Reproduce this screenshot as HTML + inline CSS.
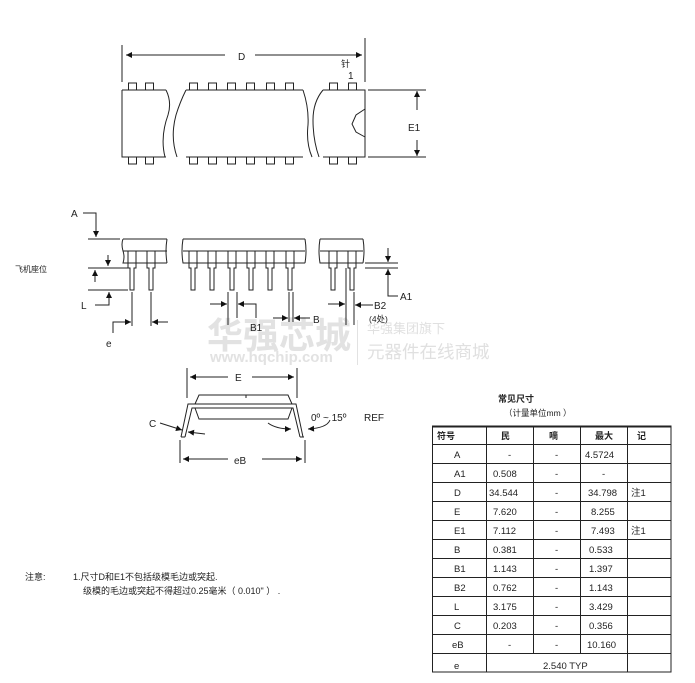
<!DOCTYPE html>
<html><head><meta charset="utf-8"><style>
html,body{margin:0;padding:0;background:#fff;}
svg{display:block;font-family:"Liberation Sans","Noto Sans CJK SC",sans-serif;}
</style></head><body>
<svg width="695" height="683" viewBox="0 0 695 683" xmlns="http://www.w3.org/2000/svg">
<defs>
<marker id="ar" viewBox="0 0 10 10" refX="10" refY="5" markerWidth="9" markerHeight="6" orient="auto-start-reverse" markerUnits="userSpaceOnUse"><path d="M0,0 L10,5 L0,10 z" fill="#111"/></marker>
</defs>
<g fill="none" stroke="#222" stroke-width="1">
<!-- watermark -->
<g stroke="none">
<text x="207" y="348" font-size="36" font-weight="bold" fill="#e2e2e2" stroke="none">华强芯城</text>
<text x="210" y="362" font-size="15" font-weight="bold" fill="#e2e2e2" stroke="none">www.hqchip.com</text>
<text x="367" y="333" font-size="13" fill="#e0e0e0" stroke="none">华强集团旗下</text>
<text x="367" y="358" font-size="17.5" fill="#e0e0e0" stroke="none">元器件在线商城</text>
</g>
<line x1="357.5" y1="320" x2="357.5" y2="365" stroke="#e2e2e2"/>

<!-- TOP VIEW -->
<line x1="122" y1="45" x2="122" y2="82"/>
<line x1="365" y1="38" x2="365" y2="82"/>
<line x1="126" y1="55" x2="225" y2="55" marker-start="url(#ar)"/>
<line x1="255" y1="55" x2="362" y2="55" marker-end="url(#ar)"/>
<path d="M122,90 H166 M186,90 H303 M323,90 H365 V157 H323 M303,157 H186 M166,157 H122 V90"/>
<path d="M166,90 q6,12 2,25 q-8,22 -3,42 M186,90 q-6,12 -10,25 q-6,22 1,42"/>
<path d="M303,90 q6,18 5,35 q-2,18 4,32 M323,90 q-10,12 -10,30 q0,20 6,37"/>
<path d="M365,109 L356,115 L352,124 L356,132 L365,137"/>
<g>
<rect x="128.5" y="83" width="8" height="7"/><rect x="145.5" y="83" width="8" height="7"/>
<rect x="189.5" y="83" width="8" height="7"/><rect x="208.5" y="83" width="8" height="7"/>
<rect x="227.5" y="83" width="8" height="7"/><rect x="246.5" y="83" width="8" height="7"/>
<rect x="266.5" y="83" width="8" height="7"/><rect x="285.5" y="83" width="8" height="7"/>
<rect x="329.5" y="83" width="8" height="7"/><rect x="348.5" y="83" width="8" height="7"/>
<rect x="128.5" y="157" width="8" height="7"/><rect x="145.5" y="157" width="8" height="7"/>
<rect x="189.5" y="157" width="8" height="7"/><rect x="208.5" y="157" width="8" height="7"/>
<rect x="227.5" y="157" width="8" height="7"/><rect x="246.5" y="157" width="8" height="7"/>
<rect x="266.5" y="157" width="8" height="7"/><rect x="285.5" y="157" width="8" height="7"/>
<rect x="329.5" y="157" width="8" height="7"/><rect x="348.5" y="157" width="8" height="7"/>
</g>
<line x1="368" y1="90" x2="426" y2="90"/>
<line x1="368" y1="157" x2="426" y2="157"/>
<line x1="417" y1="110" x2="417" y2="91" marker-end="url(#ar)"/>
<line x1="417" y1="140" x2="417" y2="156" marker-end="url(#ar)"/>

<!-- SIDE VIEW -->
<path d="M123,239 H167 M123,239 q-2,5 0,12 q2,6 0,12 H167 M167,239 q-2,12 0,24 M123,251 H167"/>
<path d="M183,239 H305 M183,239 q-2,12 0,24 H305 M305,239 q2,12 0,24 M183,251 H305"/>
<path d="M320,239 H363 M320,239 q-2,12 0,24 H363 M363,239 q2,12 0,24 M320,251 H363"/>
<g>
<path d="M128,251 V268 H130 V290 H134 V268 H136 V251"/>
<path d="M147,251 V268 H149 V290 H153 V268 H155 V251"/>
<path d="M189,251 V268 H191 V290 H195 V268 H197 V251"/>
<path d="M208,251 V268 H210 V290 H214 V268 H216 V251"/>
<path d="M228,251 V268 H230 V290 H234 V268 H236 V251"/>
<path d="M247,251 V268 H249 V290 H253 V268 H255 V251"/>
<path d="M266,251 V268 H268 V290 H272 V268 H274 V251"/>
<path d="M286,251 V268 H288 V290 H292 V268 H294 V251"/>
<path d="M329,251 V268 H331 V290 H335 V268 H337 V251"/>
<path d="M348,251 V268 H350 V290 H354 V268 H356 V251"/>
</g>
<!-- A -->
<path d="M83,213 H96 V237" marker-end="url(#ar)"/>
<line x1="88" y1="239" x2="120" y2="239"/>
<!-- L -->
<line x1="88" y1="268" x2="128" y2="268"/>
<line x1="88" y1="290" x2="128" y2="290"/>
<line x1="108" y1="255" x2="108" y2="266" marker-end="url(#ar)"/>
<line x1="95" y1="282" x2="95" y2="270" marker-end="url(#ar)"/>
<path d="M95,305 H109 V292" marker-end="url(#ar)"/>
<!-- e -->
<line x1="132" y1="292" x2="132" y2="326"/>
<line x1="151" y1="292" x2="151" y2="326"/>
<path d="M113,333 V322 H131" marker-end="url(#ar)"/>
<line x1="168" y1="322" x2="152" y2="322" marker-end="url(#ar)"/>
<!-- B1 -->
<line x1="228" y1="292" x2="228" y2="325"/>
<line x1="237" y1="292" x2="237" y2="318"/>
<line x1="210" y1="304" x2="227" y2="304" marker-end="url(#ar)"/>
<path d="M256,318 V304 H238" marker-end="url(#ar)"/>
<!-- B -->
<line x1="289" y1="292" x2="289" y2="322"/>
<line x1="293" y1="292" x2="293" y2="322"/>
<line x1="273" y1="318" x2="288" y2="318" marker-end="url(#ar)"/>
<line x1="310" y1="318" x2="294" y2="318" marker-end="url(#ar)"/>
<!-- B2 -->
<line x1="346" y1="268" x2="346" y2="325"/>
<line x1="354" y1="292" x2="354" y2="325"/>
<line x1="328" y1="304" x2="345" y2="304" marker-end="url(#ar)"/>
<path d="M373,305 H355" marker-end="url(#ar)"/>
<!-- A1 -->
<line x1="365" y1="263" x2="398" y2="263"/>
<line x1="365" y1="268" x2="398" y2="268"/>
<line x1="388" y1="248" x2="388" y2="262" marker-end="url(#ar)"/>
<path d="M398,296 H388 V269" marker-end="url(#ar)"/>

<!-- END VIEW -->
<line x1="187" y1="368" x2="187" y2="398"/>
<line x1="297" y1="368" x2="297" y2="398"/>
<line x1="190" y1="377" x2="228" y2="377" marker-start="url(#ar)"/>
<line x1="252" y1="377" x2="294" y2="377" marker-end="url(#ar)"/>
<path d="M195,404 L199,395 H288 L292,404 M195,408 L199,419 H288 L292,408"/>
<line x1="246" y1="395" x2="246" y2="398"/>
<path d="M181,437 L188,404 H296 L303,437 M185,437 L192,408 H293 L300,437 M181,437 H185 M300,437 H304"/>
<line x1="180" y1="440" x2="180" y2="463"/>
<line x1="305" y1="440" x2="305" y2="463"/>
<line x1="183" y1="459" x2="228" y2="459" marker-start="url(#ar)"/>
<line x1="262" y1="459" x2="302" y2="459" marker-end="url(#ar)"/>
<line x1="160" y1="423" x2="182" y2="430" marker-end="url(#ar)"/>
<line x1="205" y1="434" x2="188" y2="432" marker-end="url(#ar)"/>
<path d="M268,423 q8,6 23,6" marker-end="url(#ar)"/>
<path d="M330,420 q-3,8 -22,9" marker-end="url(#ar)"/>

<!-- TABLE -->
<rect x="432.5" y="426" width="238.5" height="246"/>
<line x1="432" y1="426.5" x2="671" y2="426.5" stroke-width="2"/>
<line x1="432" y1="444.5" x2="671" y2="444.5"/>
<line x1="432" y1="463.5" x2="671" y2="463.5"/>
<line x1="432" y1="482.5" x2="671" y2="482.5"/>
<line x1="432" y1="501.5" x2="671" y2="501.5"/>
<line x1="432" y1="520.5" x2="671" y2="520.5"/>
<line x1="432" y1="539.5" x2="671" y2="539.5"/>
<line x1="432" y1="558.5" x2="671" y2="558.5"/>
<line x1="432" y1="577.5" x2="671" y2="577.5"/>
<line x1="432" y1="596.5" x2="671" y2="596.5"/>
<line x1="432" y1="615.5" x2="671" y2="615.5"/>
<line x1="432" y1="634.5" x2="671" y2="634.5"/>
<line x1="432" y1="653.5" x2="671" y2="653.5"/>
<line x1="486.5" y1="426" x2="486.5" y2="672"/>
<line x1="533.5" y1="426" x2="533.5" y2="653"/>
<line x1="580.5" y1="426" x2="580.5" y2="653"/>
<line x1="627.5" y1="426" x2="627.5" y2="672"/>
</g>

<g fill="#222" font-size="10">
<text x="238" y="60">D</text>
<text x="341" y="67" font-size="9">针</text>
<text x="348" y="79">1</text>
<text x="408" y="131">E1</text>
<text x="71" y="217">A</text>
<text x="15" y="272" font-size="8">飞机座位</text>
<text x="81" y="309">L</text>
<text x="106" y="347">e</text>
<text x="250" y="331">B1</text>
<text x="313" y="323">B</text>
<text x="374" y="309">B2</text>
<text x="369" y="322" font-size="8.5">(4处)</text>
<text x="400" y="300">A1</text>
<text x="235" y="381">E</text>
<text x="234" y="464">eB</text>
<text x="149" y="427">C</text>
<text x="311" y="421">0º ~ 15º</text>
<text x="364" y="421">REF</text>
<g font-size="9">
<text x="498" y="402" font-weight="bold">常见尺寸</text>
<text x="504" y="416" font-size="8.5">（计量单位mm ）</text>
<text x="437" y="439" font-weight="bold">符号</text>
<text x="501" y="439" font-weight="bold">民</text>
<text x="549" y="439" font-weight="bold">嘀</text>
<text x="595" y="439" font-weight="bold">最大</text>
<text x="637" y="439" font-weight="bold">记</text>
</g>
<g font-size="9.5">
<text x="454" y="458">A</text><text x="508" y="458">-</text><text x="555" y="458">-</text><text x="585" y="458">4.5724</text>
<text x="454" y="477">A1</text><text x="493" y="477">0.508</text><text x="555" y="477">-</text><text x="602" y="477">-</text>
<text x="454" y="496">D</text><text x="489" y="496">34.544</text><text x="555" y="496">-</text><text x="588" y="496">34.798</text><text x="631" y="496">注1</text>
<text x="454" y="515">E</text><text x="493" y="515">7.620</text><text x="555" y="515">-</text><text x="591" y="515">8.255</text>
<text x="454" y="534">E1</text><text x="493" y="534">7.112</text><text x="555" y="534">-</text><text x="591" y="534">7.493</text><text x="631" y="534">注1</text>
<text x="454" y="553">B</text><text x="493" y="553">0.381</text><text x="555" y="553">-</text><text x="589" y="553">0.533</text>
<text x="454" y="572">B1</text><text x="493" y="572">1.143</text><text x="555" y="572">-</text><text x="589" y="572">1.397</text>
<text x="454" y="591">B2</text><text x="493" y="591">0.762</text><text x="555" y="591">-</text><text x="589" y="591">1.143</text>
<text x="454" y="610">L</text><text x="493" y="610">3.175</text><text x="555" y="610">-</text><text x="589" y="610">3.429</text>
<text x="454" y="629">C</text><text x="493" y="629">0.203</text><text x="555" y="629">-</text><text x="589" y="629">0.356</text>
<text x="452" y="648">eB</text><text x="508" y="648">-</text><text x="555" y="648">-</text><text x="587" y="648">10.160</text>
<text x="454" y="669">e</text><text x="543" y="669">2.540 TYP</text>
</g>
<g font-size="9">
<text x="25" y="580">注意:</text>
<text x="73" y="580">1.尺寸D和E1不包括级模毛边或突起.</text>
<text x="83" y="594">级模的毛边或突起不得超过0.25毫米（ 0.010" ） .</text>
</g>
</g>
</svg>
</body></html>
